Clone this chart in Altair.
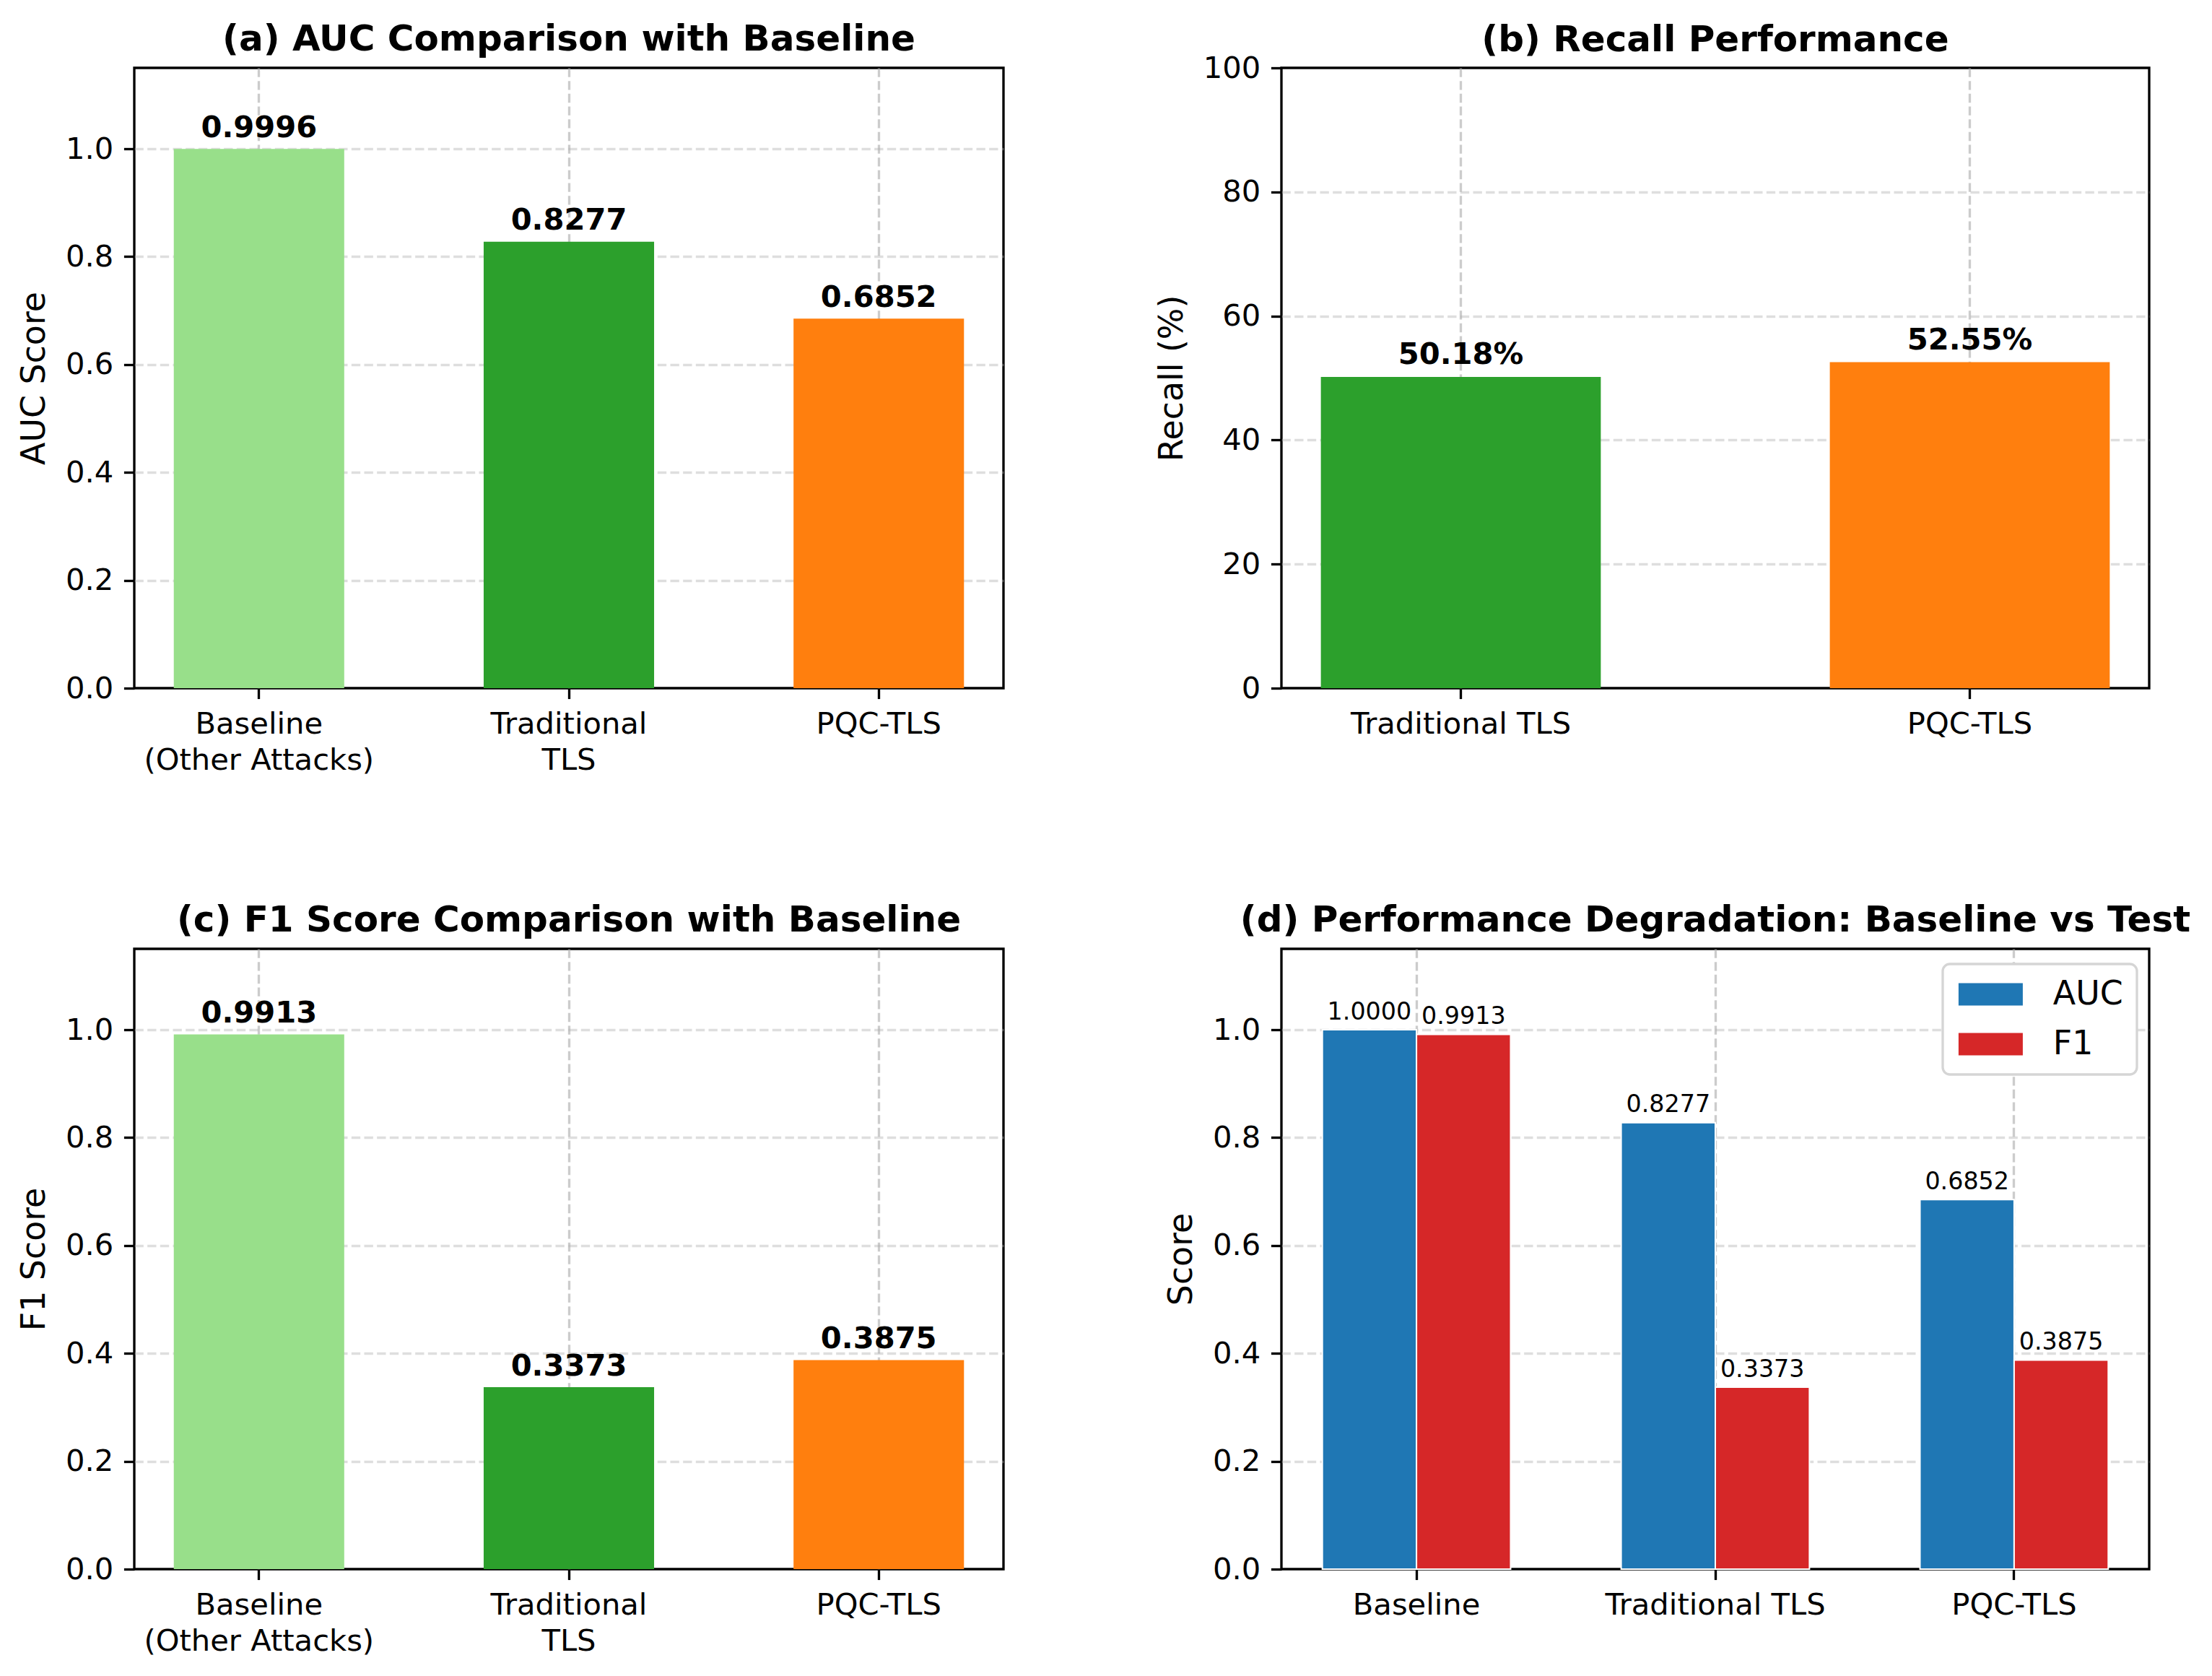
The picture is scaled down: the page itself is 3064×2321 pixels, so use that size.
import altair as alt
import pandas as pd

PT = 300 / 72  # output pixels per typographic point

# ---- data -------------------------------------------------------------
categories_ac = ["Baseline\n(Other Attacks)", "Traditional\nTLS", "PQC-TLS"]
colors_ac = ["#98df8a", "#2ca02c", "#ff7f0e"]
auc_scores = [0.9996, 0.8277, 0.6852]
f1_scores = [0.9913, 0.3373, 0.3875]

recall_categories = ["Traditional TLS", "PQC-TLS"]
recall_colors = ["#2ca02c", "#ff7f0e"]
recall_pct = [50.18, 52.55]

degradation_categories = ["Baseline", "Traditional TLS", "PQC-TLS"]
metric_names = ["AUC", "F1"]
metric_colors = ["#1f77b4", "#d62728"]
degradation_auc = [1.0000, 0.8277, 0.6852]
degradation_f1 = [0.9913, 0.3373, 0.3875]

score_ticks = [0.0, 0.2, 0.4, 0.6, 0.8, 1.0]
recall_ticks = [0, 20, 40, 60, 80, 100]

# ---- styling ----------------------------------------------------------
FONT = "DejaVu Sans"
TICK_FS = 10 * PT
LABEL_FS = 11 * PT
TITLE_FS = 12 * PT
VALUE_FS = 10 * PT
SMALL_VALUE_FS = 8 * PT
LINE_W = 0.8 * PT
TICK_LEN = 3.5 * PT
GRID_OPACITY = 0.65

W_LEFT, W_RIGHT, H = 1204, 1202, 859


def panel_title(text, offset=-26):
    return alt.TitleParams(
        text=text, fontSize=TITLE_FS, fontWeight="bold", font=FONT,
        color="black", anchor="middle", baseline="alphabetic", offset=offset,
    )


def x_axis():
    return alt.Axis(
        title=None, labelAngle=0, grid=True, bandPosition=0.5,
        labelExpr="split(datum.label, '\\n')", labelLineHeight=50,
    )


def y_axis(text, ticks, fmt, y_max):
    # hide the grid lines that would sit on top of the frame
    hide = f"datum.value === 0 || datum.value === {y_max}"
    return alt.Axis(
        title=text, values=ticks, format=fmt, grid=True,
        gridOpacity={"condition": {"test": hide, "value": 0}, "value": GRID_OPACITY},
    )


def single_bar_panel(cats, colors, values, labels, ticks, fmt, y_max,
                     y_title, title_text, width, pad_outer, label_dy,
                     title_offset=-26):
    df = pd.DataFrame({"category": cats, "value": values, "label": labels})
    x = alt.X("category:N", sort=cats, axis=x_axis(),
              scale=alt.Scale(paddingInner=0.45, paddingOuter=pad_outer))
    y = alt.Y("value:Q", axis=y_axis(y_title, ticks, fmt, y_max),
              scale=alt.Scale(domain=[0, y_max], nice=False, zero=True))
    bars = alt.Chart(df).mark_bar().encode(
        x=x, y=y,
        color=alt.Color("category:N", scale=alt.Scale(domain=cats, range=colors),
                        legend=None),
    )
    text = alt.Chart(df).mark_text(
        font=FONT, fontSize=VALUE_FS, fontWeight="bold", baseline="bottom",
        dy=-label_dy, color="black",
    ).encode(x=x, y=y, text="label:N")
    return alt.layer(bars, text).properties(
        width=width, height=H, title=panel_title(title_text, title_offset)
    )


panel_a = single_bar_panel(
    categories_ac, colors_ac, auc_scores, [f"{v:.4f}" for v in auc_scores],
    score_ticks, ".1f", 1.15, "AUC Score", "(a) AUC Comparison with Baseline",
    W_LEFT, 0.1275, 7.5,
)

panel_b = single_bar_panel(
    recall_categories, recall_colors, recall_pct, [f"{v:.2f}%" for v in recall_pct],
    recall_ticks, "d", 100, "Recall (%)", "(b) Recall Performance",
    W_RIGHT, 0.0775, 8.6, title_offset=-47,
)

panel_c = single_bar_panel(
    categories_ac, colors_ac, f1_scores, [f"{v:.4f}" for v in f1_scores],
    score_ticks, ".1f", 1.15, "F1 Score", "(c) F1 Score Comparison with Baseline",
    W_LEFT, 0.1275, 7.5,
)

# grouped bars: AUC vs F1 per configuration
deg_df = pd.DataFrame({
    "category": degradation_categories * 2,
    "metric": [metric_names[0]] * 3 + [metric_names[1]] * 3,
    "value": degradation_auc + degradation_f1,
})
deg_x = alt.X("category:N", sort=degradation_categories, axis=x_axis(),
              scale=alt.Scale(paddingInner=0.37, paddingOuter=0.137))
deg_xo = alt.XOffset("metric:N", sort=metric_names,
                     scale=alt.Scale(paddingInner=0, paddingOuter=0))
deg_y = alt.Y("value:Q", axis=y_axis("Score", score_ticks, ".1f", 1.15),
              scale=alt.Scale(domain=[0, 1.15], nice=False, zero=True))
deg_bars = alt.Chart(deg_df).mark_bar(stroke="white", strokeWidth=2).encode(
    x=deg_x, xOffset=deg_xo, y=deg_y,
    color=alt.Color(
        "metric:N", sort=metric_names,
        scale=alt.Scale(domain=metric_names, range=metric_colors),
        legend=alt.Legend(
            title=None, orient="none", legendX=916, legendY=21,
            fillColor="white", strokeColor="#d5d5d5", cornerRadius=10,
            padding=19, rowPadding=22,
            symbolType="M-2.225,-0.775L2.225,-0.775L2.225,0.775L-2.225,0.775Z",
            symbolSize=1600, symbolOffset=24.5, symbolStrokeWidth=0,
            symbolOpacity=1, labelOffset=63.5,
            labelFont=FONT, labelFontSize=LABEL_FS, labelColor="black",
        ),
    ),
)
deg_text = alt.Chart(deg_df).mark_text(
    font=FONT, fontSize=SMALL_VALUE_FS, baseline="bottom", dy=-7.5, color="black",
).encode(x=deg_x, xOffset=deg_xo, y=deg_y, text=alt.Text("value:Q", format=".4f"))
panel_d = alt.layer(deg_bars, deg_text).properties(
    width=W_RIGHT, height=H,
    title=panel_title("(d) Performance Degradation: Baseline vs Test"),
)

chart = alt.concat(
    panel_a, panel_b, panel_c, panel_d,
    columns=2,
    spacing=alt.RowColnumber(row=361, column=385),
    bounds="flush",
).resolve_scale(
    color="independent",
).properties(
    padding={"left": 22, "top": 28, "right": 10, "bottom": 10},
).configure(
    font=FONT,
).configure_view(
    stroke="black", strokeWidth=LINE_W,
).configure_axis(
    labelFont=FONT, labelFontSize=TICK_FS, labelColor="black", labelLimit=0,
    titleFont=FONT, titleFontSize=LABEL_FS, titleFontWeight="normal",
    titleColor="black", titlePadding=19,
    tickColor="black", tickWidth=LINE_W, tickSize=TICK_LEN,
    labelPadding=TICK_LEN, domain=False,
    gridColor="#b0b0b0", gridOpacity=GRID_OPACITY, gridWidth=LINE_W,
    gridDash=[2.96 * PT, 1.28 * PT],
).configure_legend(
    strokeWidth=LINE_W,
)

chart.save("out.html", embed_options={"renderer": "svg", "actions": False})
